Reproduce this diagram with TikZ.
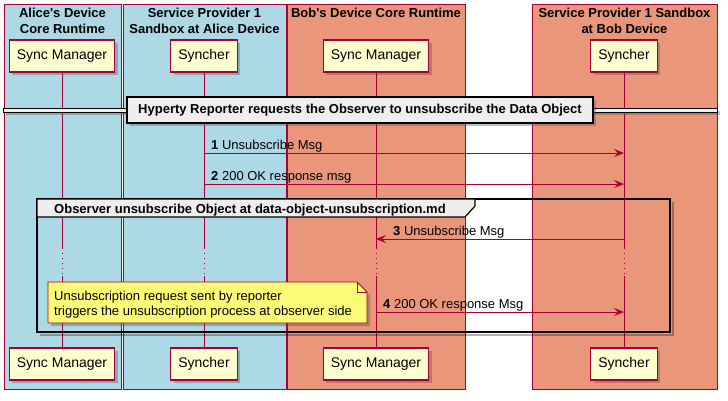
\documentclass[tikz,border=0pt]{standalone}
\usepackage{fontspec}
\setmainfont{Liberation Sans}
\usetikzlibrary{arrows.meta,shadows}
\definecolor{lb}{HTML}{ADD8E6}
\definecolor{ds}{HTML}{E9967A}
\definecolor{pu}{HTML}{A80036}
\definecolor{pfill}{HTML}{FEFECE}
\definecolor{nfill}{HTML}{FBFB77}
\definecolor{gfill}{HTML}{EEEEEE}
\begin{document}
\begin{tikzpicture}[x=1pt,y=-1pt,
  shad/.style={drop shadow={shadow xshift=3pt,shadow yshift=-3pt,opacity=0.35,fill=black!70}},
  part/.style={draw=pu,fill=pfill,line width=1.2pt,minimum height=32pt,inner xsep=7.5pt,inner ysep=0pt,font=\fontsize{14}{16}\selectfont,shad},
  grpbox/.style={draw=pu,line width=0.8pt},
  ttl/.style={font=\fontsize{13}{16}\selectfont\bfseries,anchor=base,inner sep=0pt},
  life/.style={draw=pu,line width=0.8pt},
  lifedot/.style={draw=pu,line width=0.8pt,dash pattern=on 1pt off 4pt},
  msg/.style={draw=pu,line width=0.8pt,-{Stealth[length=10pt,width=8pt,inset=4pt]}},
  lbl/.style={font=\fontsize{13}{16}\selectfont,anchor=base west,inner sep=0pt},
]
\useasboundingbox (0,0) rectangle (728,400);
\fill[white] (0,0) rectangle (728,400);
% boxes
\draw[grpbox,fill=lb] (4,4) rectangle (121,389);
\draw[grpbox,fill=lb] (123,4) rectangle (286,389);
\draw[grpbox,fill=ds] (287,4) rectangle (465,389);
\draw[grpbox,fill=ds] (532,4) rectangle (717,389);
% box titles
\node[ttl] (t1a) at (62.5,17) {Alice\textquotesingle s Device};
\node[ttl] (t1b) at (62.5,33) {Core Runtime};
\node[ttl] (t2a) at (204.5,17) {Service Provider 1};
\node[ttl] (t2b) at (204.5,33) {Sandbox at Alice Device};
\node[ttl] (t3a) at (376,17) {Bob\textquotesingle s Device Core Runtime};
\node[ttl] (t4a) at (624.5,17) {Service Provider 1 Sandbox};
\node[ttl] (t4b) at (624.5,33) {at Bob Device};
% participants
\node[part] (a1) at (62,56) {Sync Manager};
\node[part] (a2) at (204,56) {Syncher};
\node[part] (b1) at (376,56) {Sync Manager};
\node[part] (b2) at (624,56) {Syncher};
\node[part] (a1e) at (62,364) {Sync Manager};
\node[part] (a2e) at (204,364) {Syncher};
\node[part] (b1e) at (376,364) {Sync Manager};
\node[part] (b2e) at (624,364) {Syncher};
% lifelines
\foreach \p/\x in {a1/62,a2/204,b1/376,b2/624}{
  \coordinate (\p d1) at (\x,248);
  \coordinate (\p d2) at (\x,276);
  \draw[life] (\p.south) -- (\p d1);
  \draw[lifedot] (\p d1) -- (\p d2);
  \draw[life] (\p d2) -- (\p e.north);
}
% divider
\draw[draw=black,line width=0.8pt,fill=gfill,shad] (3,108) rectangle (717,112);
\node[draw=black,line width=1.2pt,fill=gfill,shad,minimum width=466pt,minimum height=26pt,inner sep=0pt,font=\fontsize{13}{16}\selectfont\bfseries] (div) at (360,110) {Hyperty Reporter requests the Observer to unsubscribe the Data Object};
% messages 1 and 2
\coordinate (m1a) at (204,153); \coordinate (m1b) at (624,153);
\coordinate (m2a) at (204,184); \coordinate (m2b) at (624,184);
\draw[msg] (m1a) -- (m1b);
\draw[msg] (m2a) -- (m2b);
\node[lbl] (l1) at (211,149) {\textbf{1} Unsubscribe Msg};
\node[lbl] (l2) at (211,180) {\textbf{2} 200 OK response msg};
% group
\draw[black,opacity=0.3,line width=2pt] (40,335) -- (673,335) -- (673,202);
\draw[black,line width=1.5pt] (37,199) rectangle (670,332);
\draw[black,line width=1.2pt,fill=gfill] (37,199) -- (475,199) -- (475,206) -- (465,217) -- (37,217) -- cycle;
\node[lbl,font=\fontsize{13}{16}\selectfont\bfseries] (gl) at (54,213) {Observer unsubscribe Object at data-object-unsubscription.md};
% message 3
\coordinate (m3a) at (624,239); \coordinate (m3b) at (376,239);
\draw[msg] (m3a) -- (m3b);
\node[lbl] (l3) at (393,235) {\textbf{3} Unsubscribe Msg};
% message 4
\coordinate (m4a) at (376,312); \coordinate (m4b) at (624,312);
\draw[msg] (m4a) -- (m4b);
\node[lbl] (l4) at (383,308) {\textbf{4} 200 OK response Msg};
% note
\draw[draw=pu,fill=nfill,line width=0.8pt,shad] (48,282) -- (357,282) -- (367,292) -- (367,323) -- (48,323) -- cycle;
\draw[pu,line width=0.8pt] (357,282) -- (357,292) -- (367,292);
\node[lbl] (n1) at (54,300) {Unsubscription request sent by reporter};
\node[lbl] (n2) at (54,315) {triggers the unsubscription process at observer side};
\end{tikzpicture}
\end{document}
